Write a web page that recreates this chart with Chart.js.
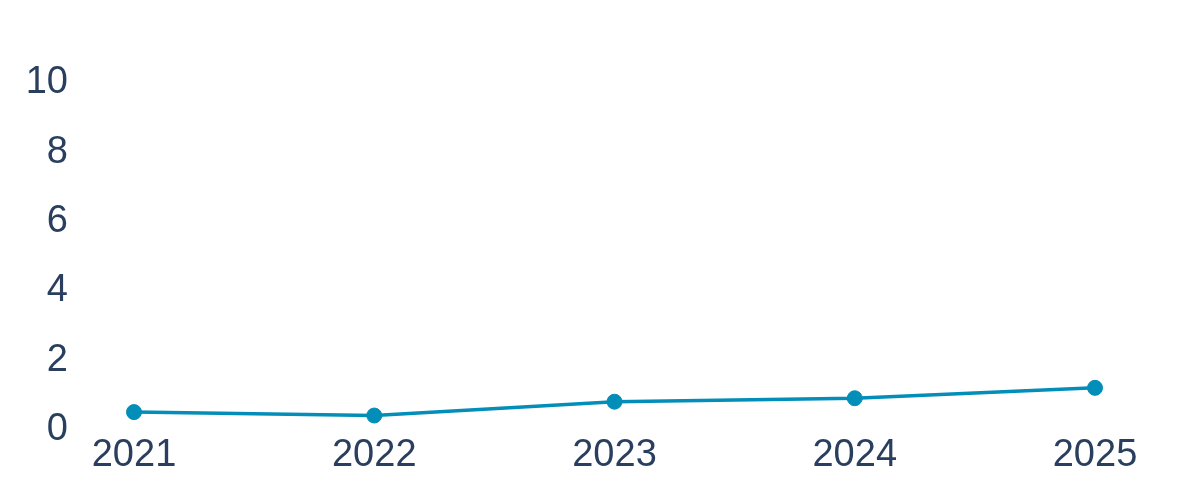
<!DOCTYPE html>
<html>
<head>
<meta charset="utf-8">
<script src="https://cdn.jsdelivr.net/npm/chart.js@4"></script>
<style>
  html, body { margin: 0; padding: 0; background: #fff; }
  #wrap { width: 1200px; height: 500px; }
</style>
</head>
<body>
<div id="wrap"><canvas id="lineChart"></canvas></div>
<script>
// data
const years = ['2021', '2022', '2023', '2024', '2025'];
const values = [0.5, 0.4, 0.8, 0.9, 1.2];
const yTicks = [0, 2, 4, 6, 8, 10];

const textColor = '#2a3f5f';
const lineColor = '#028eb8';

new Chart(document.getElementById('lineChart'), {
    type: 'line',
    data: {
        labels: years,
        datasets: [{
            data: values,
            borderColor: lineColor,
            backgroundColor: lineColor,
            borderWidth: 3.5,
            pointRadius: 7.5,
            pointBorderWidth: 1,
            pointHoverRadius: 7.5,
            fill: false,
            tension: 0
        }]
    },
    options: {
        responsive: true,
        maintainAspectRatio: false,
        animation: false,
        layout: {
            padding: { left: 0, right: 105, top: 83, bottom: 27 }
        },
        plugins: {
            legend: { display: false },
            tooltip: { enabled: false }
        },
        scales: {
            x: {
                grid: { display: false },
                border: { display: false },
                ticks: {
                    color: textColor,
                    font: { family: 'Liberation Sans', size: 38 },
                    padding: -5,
                    maxRotation: 0
                }
            },
            y: {
                min: 0,
                max: 10,
                grid: { display: false },
                border: { display: false },
                afterBuildTicks: (axis) => {
                    axis.ticks = yTicks.map(v => ({ value: v }));
                },
                afterFit: (axis) => {
                    // wide gap between labels and plot, without the vertical padding it brings
                    axis.width = 134;
                    axis.paddingTop = 0;
                    axis.paddingBottom = 0;
                },
                ticks: {
                    color: textColor,
                    font: { family: 'Liberation Sans', size: 38 },
                    padding: 58
                }
            }
        }
    }
});
</script>
</body>
</html>
